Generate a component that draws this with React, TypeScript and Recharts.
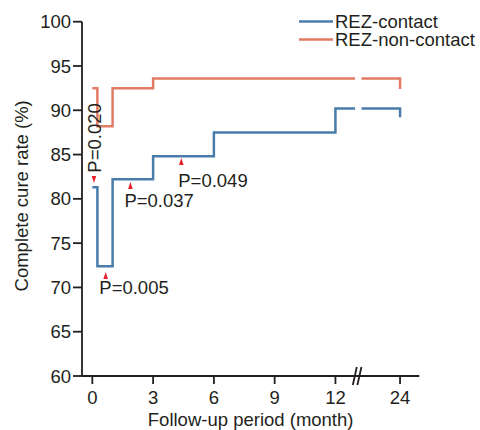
import { LineChart, Line, XAxis, YAxis, ReferenceDot, Legend } from "recharts"

const MONTHS_CONTACT = [0, 0.25, 1, 3, 6, 12, 24]
const RATE_CONTACT = [81.3, 72.4, 82.2, 84.8, 87.5, 90.2, 89.2]
const MONTHS_NONCONTACT = [0, 0.25, 1, 3, 24]
const RATE_NONCONTACT = [92.5, 88.2, 92.5, 93.6, 92.4]

const X_TICKS = [0, 3, 6, 9, 12, 24]
const Y_TICKS = [60, 65, 70, 75, 80, 85, 90, 95, 100]

const P_LABELS = ["P=0.020", "P=0.005", "P=0.037", "P=0.049"]
const P_MONTHS = [0.08, 0.66, 1.88, 4.39]
const P_RATES = [81.8, 71.75, 81.9, 84.6]

const SERIES_NAMES = ["REZ-contact", "REZ-non-contact"]

// layout: pixel offsets of each P label from its arrow tip
const LABEL_OFFSETS = [
  { dx: 1, dy: -45, rotate: true, down: true },
  { dx: -6.4, dy: 16, rotate: false, down: false },
  { dx: -6, dy: 18, rotate: false, down: false },
  { dx: -3, dy: 22, rotate: false, down: false },
]

const BLUE = "#4a7cab"
const RED = "#e27b65"
const INK = "#231f20"
const FONT = "'Liberation Sans', Arial, Helvetica, sans-serif"
const FS = 18.5

// axis break between 12 and 24 months
const AXIS_24 = 15.19
const GAP_START = 12.97
const GAP_END = 13.29
const BREAK_MID = 13.07

const toAxis = (m: number) => (m <= 12 ? m : 12 + ((m - 12) * (AXIS_24 - 12)) / 12)

function splitAtBreak(months: number[], rates: number[]) {
  const pts = months.map((m, i) => ({ x: toAxis(m), y: rates[i] }))
  const before = pts.filter((p) => p.x <= 12)
  const after = pts.filter((p) => p.x > 12)
  const lastY = before[before.length - 1].y
  return [
    [...before, { x: GAP_START, y: lastY }],
    [{ x: GAP_END, y: lastY }, ...after],
  ]
}

const contactParts = splitAtBreak(MONTHS_CONTACT, RATE_CONTACT)
const noncontactParts = splitAtBreak(MONTHS_NONCONTACT, RATE_NONCONTACT)

const tickLabel = (v: number) => {
  const idx = X_TICKS.findIndex((t) => Math.abs(toAxis(t) - v) < 0.01)
  return idx >= 0 ? String(X_TICKS[idx]) : ""
}

function LegendBox() {
  const colors = [BLUE, RED]
  return (
    <svg width={180} height={42} style={{ display: "block", overflow: "visible" }}>
      {SERIES_NAMES.map((name, i) => (
        <g key={name}>
          <line x1={1} x2={35} y1={11.5 + i * 18} y2={11.5 + i * 18} stroke={colors[i]} strokeWidth={2.5} />
          <text x={37} y={11.5 + i * 18} dominantBaseline="central" fontSize={FS} fill={INK} fontFamily={FONT}>
            {name}
          </text>
        </g>
      ))}
    </svg>
  )
}

export default function App() {
  return (
    <div style={{ fontFamily: FONT, position: "absolute", left: 0, top: 0 }}>
      <LineChart width={480} height={430} margin={{ top: 21.7, right: 60.7, bottom: 0, left: 0 }}>
        <XAxis
          type="number"
          dataKey="x"
          domain={[-0.51, 16.14]}
          ticks={X_TICKS.map(toAxis)}
          tickFormatter={tickLabel}
          interval={0}
          allowDataOverflow
          height={54}
          tickSize={8}
          tickMargin={7}
          axisLine={{ stroke: INK, strokeWidth: 1.8 }}
          tickLine={{ stroke: INK, strokeWidth: 1.8 }}
          tick={{ fontSize: FS, fill: INK }}
          label={{
            value: "Follow-up period (month)",
            content: ({ viewBox }: any) => (
              <text x={viewBox.x + viewBox.width / 2} y={viewBox.y + 50} textAnchor="middle" fontSize={FS} fill={INK}>
                Follow-up period (month)
              </text>
            ),
          }}
        />
        <YAxis
          type="number"
          domain={[60, 100]}
          ticks={Y_TICKS}
          interval={0}
          width={82}
          tickSize={9}
          tickMargin={2}
          axisLine={{ stroke: INK, strokeWidth: 1.8 }}
          tickLine={{ stroke: INK, strokeWidth: 1.8 }}
          tick={{ fontSize: FS, fill: INK }}
          label={{
            value: "Complete cure rate (%)",
            content: ({ viewBox }: any) => {
              const cx = viewBox.x + 22
              const cy = viewBox.y + viewBox.height / 2 - 3
              return (
                <text
                  x={cx}
                  y={cy}
                  transform={`rotate(-90, ${cx}, ${cy})`}
                  textAnchor="middle"
                  dominantBaseline="central"
                  fontSize={FS}
                  fill={INK}
                >
                  Complete cure rate (%)
                </text>
              )
            },
          }}
        />
        <Legend
          layout="vertical"
          align="center"
          verticalAlign="middle"
          wrapperStyle={{ top: 10, left: 298, width: 180 }}
          content={() => <LegendBox />}
        />
        {contactParts.map((part, i) => (
          <Line
            key={`c${i}`}
            data={part}
            dataKey="y"
            name={i === 0 ? SERIES_NAMES[0] : undefined}
            type="stepAfter"
            stroke={BLUE}
            strokeWidth={2.5}
            dot={false}
            activeDot={false}
            legendType="none"
            isAnimationActive={false}
          />
        ))}
        {noncontactParts.map((part, i) => (
          <Line
            key={`n${i}`}
            data={part}
            dataKey="y"
            name={i === 0 ? SERIES_NAMES[1] : undefined}
            type="stepAfter"
            stroke={RED}
            strokeWidth={2.5}
            dot={false}
            activeDot={false}
            legendType="none"
            isAnimationActive={false}
          />
        ))}
        {P_LABELS.map((label, i) => {
          const o = LABEL_OFFSETS[i]
          return (
            <ReferenceDot
              key={label}
              x={P_MONTHS[i]}
              y={P_RATES[i]}
              r={3}
              ifOverflow="visible"
              shape={(props: any) => {
                const { cx, cy } = props
                const arrow = o.down
                  ? `M${cx},${cy} L${cx - 2.3},${cy - 7} L${cx + 2.3},${cy - 7} Z`
                  : `M${cx},${cy} L${cx - 2.3},${cy + 7} L${cx + 2.3},${cy + 7} Z`
                const tx = cx + o.dx
                const ty = cy + o.dy
                return (
                  <g>
                    <path d={arrow} fill="#e8202a" />
                    {o.rotate ? (
                      <text
                        x={tx}
                        y={ty}
                        transform={`rotate(-90, ${tx}, ${ty})`}
                        textAnchor="middle"
                        dominantBaseline="central"
                        fontSize={FS}
                        fill={INK}
                      >
                        {label}
                      </text>
                    ) : (
                      <text x={tx} y={ty} dominantBaseline="central" fontSize={FS} fill={INK}>
                        {label}
                      </text>
                    )}
                  </g>
                )
              }}
            />
          )
        })}
        <ReferenceDot
          x={BREAK_MID}
          y={60}
          r={3}
          ifOverflow="visible"
          shape={(props: any) => {
            const { cx, cy } = props
            return (
              <g stroke={INK} strokeWidth={1.8}>
                <line x1={cx - 4.3} y1={cy + 9} x2={cx - 0.3} y2={cy - 9} />
                <line x1={cx + 0.3} y1={cy + 9} x2={cx + 4.3} y2={cy - 9} />
              </g>
            )
          }}
        />
      </LineChart>
    </div>
  )
}
